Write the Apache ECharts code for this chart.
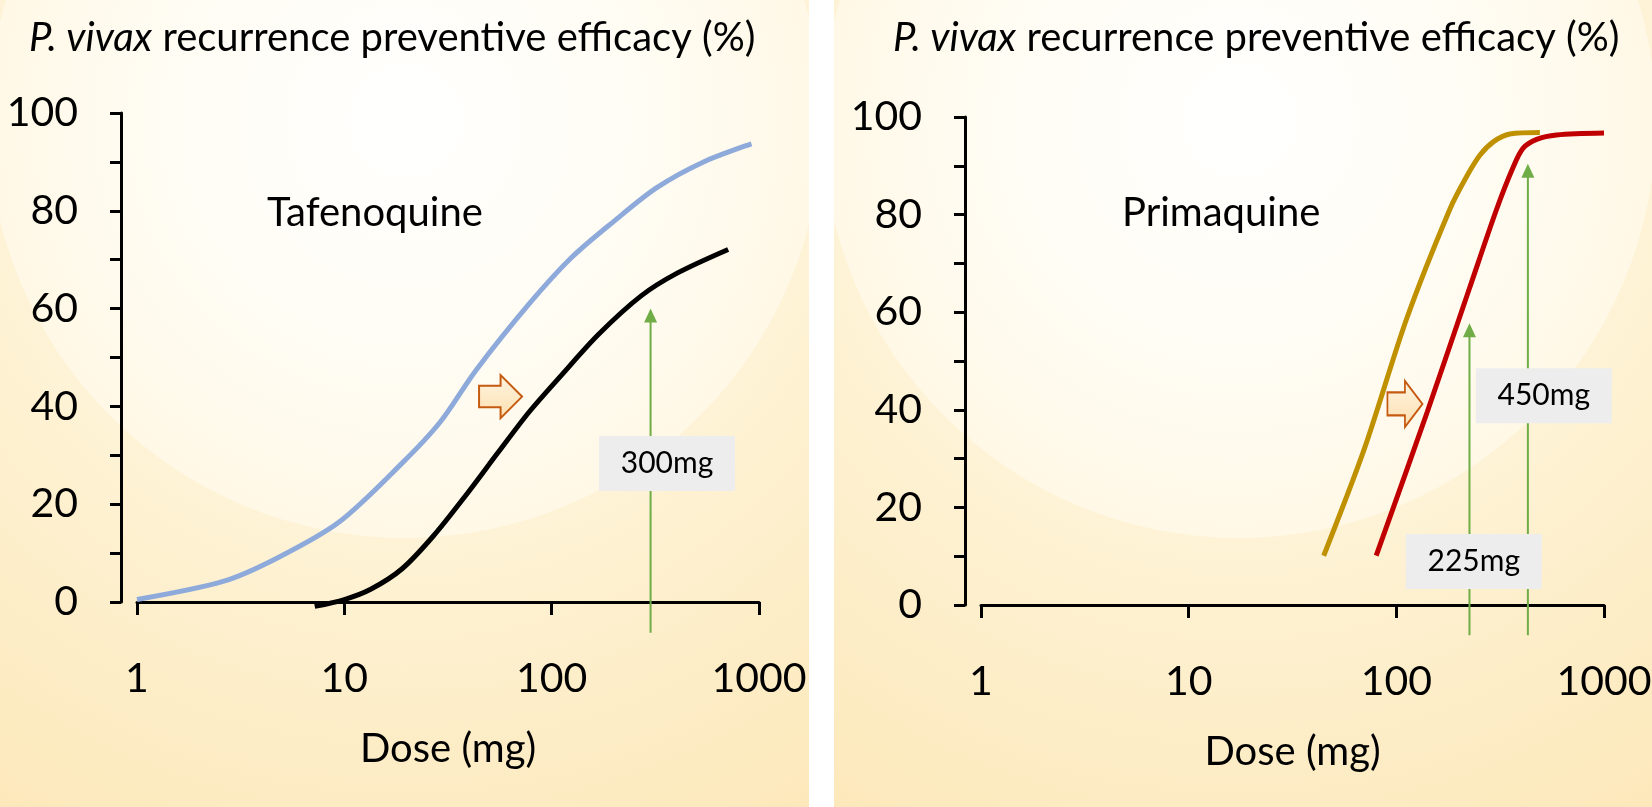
<!DOCTYPE html>
<html>
<head>
<meta charset="utf-8">
<script src="https://cdn.jsdelivr.net/npm/echarts@6/dist/echarts.min.js"></script>
<style>
  html, body { margin: 0; padding: 0; background: #fff; }
  #chart { width: 1652px; height: 807px; }
</style>
</head>
<body>
<div id="chart"></div>
<script>
// Tafenoquine panel (dose in mg, efficacy in %)
const tafBlueDose = [1, 2.6, 4.7, 9.4, 19, 29, 43, 78, 125, 200, 320, 540, 920];
const tafBlueEff = [0.5, 4.2, 8.9, 16.3, 28.4, 36.8, 47.3, 61.0, 70.5, 77.9, 84.7, 90.0, 93.7];
const tafBlackDose = [7.2, 10, 13.4, 19, 27, 39, 55, 78, 111, 168, 270, 405, 710];
const tafBlackEff = [-0.9, 0.5, 2.6, 6.8, 13.6, 22.1, 30.5, 38.9, 46.3, 54.7, 62.6, 67.3, 72.1];

// Primaquine panel
const primGoldDose = [44.7, 70.4, 112, 181, 218, 253, 293, 352, 491];
const primGoldEff = [10.1, 32.2, 58.6, 81.1, 87.8, 92.2, 94.9, 96.5, 96.8];
const primRedDose = [80, 141, 225, 304, 366, 408, 474, 591, 1000];
const primRedEff = [10.1, 39.6, 64.9, 81.1, 89.8, 93.6, 95.4, 96.3, 96.7];

// dose arrows: [dose, foot (x-axis line), arrow head centre]
const tafArrows = [[300, -6.3, 58.6]];
const primArrows = [[225, -6.2, 56.3], [430, -6.2, 89.0]];
// grey labels: [dose, efficacy, text]
const tafLabels = [[360, 28.3, '300mg']];
const primLabels = [[236, 8.9, '225mg'], [513, 42.9, '450mg']];
// orange shift arrows: [dose, efficacy]
const tafShift = [56.7, 42];
const primShift = [110, 41.2];

const yTicks = [0, 20, 40, 60, 80, 100];
const xTicks = [1, 10, 100, 1000];
const panelNames = ['Tafenoquine', 'Primaquine'];

const fontFam = 'Lato, "Open Sans", sans-serif';
const pairs = (xs, ys) => xs.map((x, i) => [x, ys[i]]);

const chart = echarts.init(document.getElementById('chart'));

function bg(x0, w) {
  const cx = x0 + 405, cy = 121;
  return [
    {
      type: 'rect', z: -10, silent: true,
      shape: { x: x0, y: 0, width: w, height: 807 },
      style: { fill: { type: 'radial', x: cx, y: cy, r: 800, global: true,
        colorStops: [{ offset: 0, color: '#FFFCF2' }, { offset: 0.52, color: '#FEF3D6' }, { offset: 1, color: '#FCE8BA' }] } }
    },
    {
      type: 'circle', z: -9, silent: true,
      shape: { cx: cx, cy: cy, r: 417 },
      style: { fill: { type: 'radial', x: cx, y: cy, r: 417, global: true,
        colorStops: [{ offset: 0, color: '#FFFFFE' }, { offset: 0.6, color: '#FFFCF3' }, { offset: 1, color: '#FFF8E6' }] } }
    }
  ];
}

function xAxis(grid) {
  return {
    type: 'log', logBase: 10, gridIndex: grid, min: 1, max: 1000, offset: 31,
    axisLine: { lineStyle: { color: '#000', width: 3 } },
    axisTick: { length: 13, lineStyle: { color: '#000', width: 3 } },
    axisLabel: { fontSize: 41, color: '#000', fontFamily: fontFam, margin: 25,
      formatter: v => { const r = Math.round(v); return xTicks.includes(r) ? String(r) : ''; } },
    splitLine: { show: false },
    name: 'Dose (mg)', nameLocation: 'middle', nameGap: 96,
    nameTextStyle: { fontSize: 40, color: '#000', fontFamily: fontFam }
  };
}

function yAxis(grid) {
  return {
    type: 'value', gridIndex: grid, min: 0, max: 100, interval: 10, offset: 16,
    axisLine: { show: true, lineStyle: { color: '#000', width: 3 } },
    axisTick: { show: true, length: 11, lineStyle: { color: '#000', width: 3 } },
    axisLabel: { fontSize: 41, color: '#000', fontFamily: fontFam, margin: 43,
      formatter: v => (yTicks.includes(v) ? String(v) : '') },
    splitLine: { show: false }
  };
}

function curve(grid, data, color) {
  return {
    type: 'line', xAxisIndex: grid, yAxisIndex: grid, data: data,
    showSymbol: false, symbol: 'none', smooth: 0.3, clip: false,
    lineStyle: { color: color, width: 5 }, silent: true
  };
}

// one green vertical arrow per dose, drawn as a two-point line with a triangle head
function doseArrow(grid, a) {
  return {
    type: 'line', xAxisIndex: grid, yAxisIndex: grid, clip: false, silent: true,
    showSymbol: true, z: 3,
    lineStyle: { color: '#70AD47', width: 2 },
    itemStyle: { color: '#70AD47' },
    data: [
      { value: [a[0], a[1]], symbol: 'none' },
      { value: [a[0], a[2]], symbol: 'triangle', symbolSize: [13, 14] }
    ]
  };
}

const shiftPath = 'path://M0,25 L50,25 L50,0 L100,50 L50,100 L50,75 L0,75 Z';

function marks(labels, shift, shiftSize) {
  const boxes = labels.map(l => ({
    coord: [l[0], l[1]], symbol: 'rect', symbolSize: [136, 55],
    itemStyle: { color: '#EDEDED' },
    label: { show: true, position: 'inside', formatter: l[2], fontSize: 30, color: '#000', fontFamily: fontFam }
  }));
  boxes.push({
    coord: shift, symbol: shiftPath, symbolSize: shiftSize,
    itemStyle: { color: { type: 'linear', x: 0, y: 0, x2: 0, y2: 1,
      colorStops: [{ offset: 0, color: '#FFF4E0' }, { offset: 1, color: '#FCE0B0' }] },
      borderColor: '#C55A11', borderWidth: 2 },
    label: { show: false }
  });
  return { silent: true, data: boxes };
}

const blue = curve(0, pairs(tafBlueDose, tafBlueEff), '#8EAADB');
const black = curve(0, pairs(tafBlackDose, tafBlackEff), '#000000');
blue.markPoint = marks(tafLabels, tafShift, [43, 43]);
blue.z = 4;

const gold = curve(1, pairs(primGoldDose, primGoldEff), '#BF9000');
const red = curve(1, pairs(primRedDose, primRedEff), '#C00000');
gold.markPoint = marks(primLabels, primShift, [35, 46]);
gold.z = 4;

const arrows = tafArrows.map(a => doseArrow(0, a)).concat(primArrows.map(a => doseArrow(1, a)));

const titleStyle = { fontSize: 40, fontWeight: 'normal', color: '#000', fontFamily: fontFam,
  rich: { i: { fontSize: 40, fontStyle: 'italic', color: '#000', fontFamily: fontFam } } };
const nameStyle = { fontSize: 40, fontWeight: 'normal', color: '#000', fontFamily: fontFam };

chart.setOption({
  animation: false,
  backgroundColor: '#fff',
  graphic: bg(0, 809).concat(bg(834, 818)).concat([
    { type: 'rect', z: -8, silent: true, shape: { x: 809, y: 0, width: 25, height: 807 }, style: { fill: '#fff' } }
  ]),
  title: [
    { text: '{i|P. vivax} recurrence preventive efficacy (%)', left: 24, top: 13, textStyle: titleStyle },
    { text: '{i|P. vivax} recurrence preventive efficacy (%)', left: 888, top: 13, textStyle: titleStyle },
    { text: panelNames[0], left: 262, top: 188, textStyle: nameStyle },
    { text: panelNames[1], left: 1117, top: 188, textStyle: nameStyle }
  ],
  grid: [
    { left: 137, top: 113, width: 622, height: 489, outerBoundsMode: 'none' },
    { left: 981, top: 117, width: 623, height: 488, outerBoundsMode: 'none' }
  ],
  xAxis: [xAxis(0), xAxis(1)],
  yAxis: [yAxis(0), yAxis(1)],
  series: [blue, black, gold, red].concat(arrows)
});
</script>
</body>
</html>
